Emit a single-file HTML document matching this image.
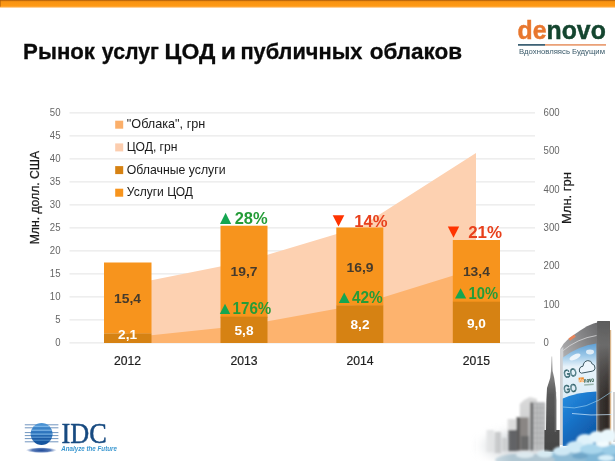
<!DOCTYPE html>
<html lang="ru">
<head>
<meta charset="utf-8">
<title>Рынок услуг ЦОД и публичных облаков</title>
<style>
html,body{margin:0;padding:0;background:#fff;}
body{width:615px;height:461px;overflow:hidden;position:relative;font-family:"Liberation Sans",sans-serif;}
svg{position:absolute;left:0;top:0;display:block;}
text{font-family:"Liberation Sans",sans-serif;}
.ax{font-size:10px;fill:#666;}
.cat{font-size:12.2px;fill:#1e1e1e;stroke:#1e1e1e;stroke-width:0.2px;}
.leg{font-size:12.2px;fill:#1a1a1a;}
.dl{font-size:13px;font-weight:bold;fill:#453a2c;text-anchor:middle;}
.dlw{font-size:13px;font-weight:bold;fill:#ffffff;text-anchor:middle;}
.pg{font-size:17px;font-weight:bold;fill:#259c38;}
.pr{font-size:17px;font-weight:bold;fill:#e8401c;}
</style>
</head>
<body>
<svg width="615" height="461" viewBox="0 0 615 461">
<defs>
<linearGradient id="topbar" x1="0" y1="0" x2="0" y2="1">
<stop offset="0" stop-color="#b2600a"/><stop offset="0.1" stop-color="#c8700c"/><stop offset="0.2" stop-color="#f89312"/><stop offset="0.74" stop-color="#ff9a14"/><stop offset="0.86" stop-color="#ffb250"/><stop offset="1" stop-color="#ffffff"/>
</linearGradient>
</defs>
<rect x="0" y="0" width="615" height="461" fill="#ffffff"/>
<rect x="0" y="0" width="615" height="8.2" fill="url(#topbar)"/>
<rect x="0" y="0" width="1" height="6.6" fill="#a85a08" opacity="0.55"/>

<!-- title -->
<text id="title" y="59" font-size="22.2px" font-weight="bold" fill="#0a0a0a" stroke="#0a0a0a" stroke-width="0.3"><tspan x="23.1" textLength="71.9" lengthAdjust="spacingAndGlyphs">Рынок</tspan> <tspan x="101.8" textLength="57.2" lengthAdjust="spacingAndGlyphs">услуг</tspan> <tspan x="164.6" textLength="50.8" lengthAdjust="spacingAndGlyphs">ЦОД</tspan> <tspan x="220.8" textLength="15.2" lengthAdjust="spacingAndGlyphs">и</tspan> <tspan x="240.4" textLength="122" lengthAdjust="spacingAndGlyphs">публичных</tspan> <tspan x="369.7" textLength="92.4" lengthAdjust="spacingAndGlyphs">облаков</tspan></text>

<!-- denovo logo -->
<g id="denovo">
<text x="517.6" y="0" transform="translate(0,39.2) scale(1,0.9)" font-size="28.5px" font-weight="bold" textLength="88.2" lengthAdjust="spacingAndGlyphs" stroke-width="0.5"><tspan fill="#e8772e" stroke="#e8772e">de</tspan><tspan fill="#14452f" stroke="#14452f">novo</tspan></text>
<rect x="518" y="44.1" width="27" height="1.6" fill="#2a5266"/>
<rect x="545" y="44.1" width="61" height="1.6" fill="#e8976a"/>
<text x="519" y="53.9" font-size="6.6px" fill="#3a5a6a" textLength="86" lengthAdjust="spacingAndGlyphs">Вдохновляясь Будущим</text>
</g>

<!-- chart -->
<g id="grid" stroke="#e3e3e3" stroke-width="1">
<line x1="69.5" x2="535" y1="112.9" y2="112.9"/>
<line x1="69.5" x2="535" y1="135.9" y2="135.9"/>
<line x1="69.5" x2="535" y1="158.9" y2="158.9"/>
<line x1="69.5" x2="535" y1="181.9" y2="181.9"/>
<line x1="69.5" x2="535" y1="204.9" y2="204.9"/>
<line x1="69.5" x2="535" y1="227.9" y2="227.9"/>
<line x1="69.5" x2="535" y1="250.9" y2="250.9"/>
<line x1="69.5" x2="535" y1="273.9" y2="273.9"/>
<line x1="69.5" x2="535" y1="296.9" y2="296.9"/>
<line x1="69.5" x2="535" y1="319.9" y2="319.9"/>
<line x1="69.5" x2="535" y1="342.9" y2="342.9"/>
</g>
<polygon id="area1" points="127.6,343 127.6,285 244,261.8 360,227 476,153 476,343" fill="#fdd1b1"/>
<polygon id="area2" points="127.6,343 127.6,337.8 244,325.6 360,304.5 476,268.6 476,343" fill="#fdb36e"/>
<g id="bars">
<rect x="104" y="262.5" width="47.5" height="71" fill="#f7941d"/>
<rect x="104" y="333.4" width="47.5" height="9.6" fill="#d68213"/>
<rect x="220.5" y="225.7" width="47" height="92" fill="#f7941d"/>
<rect x="220.5" y="316.7" width="47" height="26.3" fill="#d68213"/>
<rect x="336.3" y="227.5" width="47" height="78" fill="#f7941d"/>
<rect x="336.3" y="305.3" width="47" height="37.7" fill="#d68213"/>
<rect x="452.8" y="240" width="47.2" height="62" fill="#f7941d"/>
<rect x="452.8" y="301.7" width="47.2" height="41.3" fill="#d68213"/>
</g>
<g class="ax" text-anchor="end">
<text x="60.5" y="115.8" textLength="10.7" lengthAdjust="spacingAndGlyphs">50</text>
<text x="60.5" y="138.8" textLength="10.7" lengthAdjust="spacingAndGlyphs">45</text>
<text x="60.5" y="161.8" textLength="10.7" lengthAdjust="spacingAndGlyphs">40</text>
<text x="60.5" y="184.8" textLength="10.7" lengthAdjust="spacingAndGlyphs">35</text>
<text x="60.5" y="207.8" textLength="10.7" lengthAdjust="spacingAndGlyphs">30</text>
<text x="60.5" y="230.8" textLength="10.7" lengthAdjust="spacingAndGlyphs">25</text>
<text x="60.5" y="253.8" textLength="10.7" lengthAdjust="spacingAndGlyphs">20</text>
<text x="60.5" y="276.8" textLength="10.7" lengthAdjust="spacingAndGlyphs">15</text>
<text x="60.5" y="299.8" textLength="10.7" lengthAdjust="spacingAndGlyphs">10</text>
<text x="60.5" y="322.8" textLength="5.3" lengthAdjust="spacingAndGlyphs">5</text>
<text x="60.5" y="345.8" textLength="5.3" lengthAdjust="spacingAndGlyphs">0</text>
</g>
<g class="ax" text-anchor="start">
<text x="543.6" y="115.8" textLength="16" lengthAdjust="spacingAndGlyphs">600</text>
<text x="543.6" y="154.1" textLength="16" lengthAdjust="spacingAndGlyphs">500</text>
<text x="543.6" y="192.5" textLength="16" lengthAdjust="spacingAndGlyphs">400</text>
<text x="543.6" y="230.8" textLength="16" lengthAdjust="spacingAndGlyphs">300</text>
<text x="543.6" y="269.1" textLength="16" lengthAdjust="spacingAndGlyphs">200</text>
<text x="543.6" y="307.5" textLength="16" lengthAdjust="spacingAndGlyphs">100</text>
<text x="543.6" y="345.8" textLength="5.3" lengthAdjust="spacingAndGlyphs">0</text>
</g>
<g class="cat" text-anchor="middle">
<text x="127.6" y="364.9">2012</text>
<text x="244" y="364.9">2013</text>
<text x="360" y="364.9">2014</text>
<text x="476.4" y="364.9">2015</text>
</g>
<text class="leg" transform="translate(39,197.6) rotate(-90)" text-anchor="middle" textLength="93.4" lengthAdjust="spacingAndGlyphs" stroke="#1a1a1a" stroke-width="0.25">Млн. долл. США</text>
<text class="leg" transform="translate(571.2,198) rotate(-90)" text-anchor="middle" textLength="52" lengthAdjust="spacingAndGlyphs" stroke="#1a1a1a" stroke-width="0.25">Млн. грн</text>

<!-- legend -->
<g id="legend">
<rect x="115.2" y="120.7" width="8" height="8" fill="#fbaf6a"/>
<rect x="115.2" y="143.4" width="8" height="8" fill="#fccdae"/>
<rect x="115.2" y="166.1" width="8" height="8" fill="#d68213"/>
<rect x="115.2" y="188.7" width="8" height="8" fill="#f7941d"/>
<text class="leg" x="126.8" y="128.3" textLength="78.5" lengthAdjust="spacingAndGlyphs">"Облака", грн</text>
<text class="leg" x="126.8" y="151" textLength="50.7" lengthAdjust="spacingAndGlyphs">ЦОД, грн</text>
<text class="leg" x="126.8" y="173.7" textLength="98.8" lengthAdjust="spacingAndGlyphs">Облачные услуги</text>
<text class="leg" x="126.8" y="196.3" textLength="66.2" lengthAdjust="spacingAndGlyphs">Услуги ЦОД</text>
</g>

<!-- data labels -->
<text class="dl" x="127.6" y="303.3" textLength="27" lengthAdjust="spacingAndGlyphs">15,4</text>
<text class="dlw" x="127.6" y="339.4" textLength="19" lengthAdjust="spacingAndGlyphs">2,1</text>
<text class="dl" x="244" y="276.4" textLength="27" lengthAdjust="spacingAndGlyphs">19,7</text>
<text class="dlw" x="244" y="334.8" textLength="19" lengthAdjust="spacingAndGlyphs">5,8</text>
<text class="dl" x="360" y="271.6" textLength="27" lengthAdjust="spacingAndGlyphs">16,9</text>
<text class="dlw" x="360" y="329.4" textLength="19" lengthAdjust="spacingAndGlyphs">8,2</text>
<text class="dl" x="476.4" y="276" textLength="27" lengthAdjust="spacingAndGlyphs">13,4</text>
<text class="dlw" x="476.4" y="328.1" textLength="19" lengthAdjust="spacingAndGlyphs">9,0</text>

<!-- percent labels -->
<g id="pct">
<polygon points="220,224 231.2,224 225.6,212.8" fill="#14a651"/>
<text class="pg" x="234.7" y="224.2" textLength="33" lengthAdjust="spacingAndGlyphs">28%</text>
<polygon points="219.8,314 230.2,314 225,303.8" fill="#14a651"/>
<text class="pg" x="232.6" y="314" textLength="38.6" lengthAdjust="spacingAndGlyphs">176%</text>
<polygon points="338.8,303 349.7,303 344.2,292.5" fill="#14a651"/>
<text class="pg" x="352" y="303.3" textLength="30.8" lengthAdjust="spacingAndGlyphs">42%</text>
<polygon points="455,298.6 466.2,298.6 460.6,288.2" fill="#14a651"/>
<text class="pg" x="468.6" y="299.4" textLength="29.5" lengthAdjust="spacingAndGlyphs">10%</text>
<polygon points="332.7,215.2 344.3,215.2 338.5,226.4" fill="#ff3300"/>
<text class="pr" x="354.2" y="226.6" textLength="33.2" lengthAdjust="spacingAndGlyphs">14%</text>
<polygon points="447.8,226.5 459.2,226.5 453.5,237.8" fill="#ff3300"/>
<text class="pr" x="468.2" y="238" textLength="33.8" lengthAdjust="spacingAndGlyphs">21%</text>
</g>

<!-- IDC logo -->
<g id="idc">
<defs>
<linearGradient id="gGlobe" x1="0" y1="0" x2="0" y2="1"><stop offset="0" stop-color="#4f97d6"/><stop offset="0.45" stop-color="#2c73bc"/><stop offset="0.7" stop-color="#1a5ba6"/><stop offset="1" stop-color="#17539c"/></linearGradient>
<radialGradient id="gShadow" cx="0.5" cy="0.5" r="0.5"><stop offset="0" stop-color="#1c4796"/><stop offset="0.6" stop-color="#3a62aa" stop-opacity="0.85"/><stop offset="1" stop-color="#6f8fc8" stop-opacity="0"/></radialGradient>
<clipPath id="cGlobe"><circle cx="41.6" cy="434" r="10.9"/></clipPath>
<filter id="bI" x="-20%" y="-20%" width="140%" height="140%"><feGaussianBlur stdDeviation="0.35"/></filter>
</defs>
<ellipse cx="41.3" cy="450.2" rx="15.5" ry="2.9" fill="url(#gShadow)"/>
<g filter="url(#bI)">
<g stroke="#4a78ae" stroke-width="0.8">
<line x1="24.8" x2="58.4" y1="424.8" y2="424.8"/>
<line x1="24.8" x2="58.4" y1="427.8" y2="427.8"/>
<line x1="24.8" x2="58.4" y1="432.6" y2="432.6"/>
<line x1="24.8" x2="58.4" y1="435.6" y2="435.6"/>
<line x1="24.8" x2="58.4" y1="438.6" y2="438.6"/>
<line x1="24.8" x2="58.4" y1="441.8" y2="441.8"/>
</g>
<circle cx="41.6" cy="434" r="10.9" fill="url(#gGlobe)"/>
<g clip-path="url(#cGlobe)" stroke="#8cc2ee" stroke-width="1.1" opacity="0.9">
<line x1="28" x2="56" y1="426.3" y2="426.3"/>
<line x1="28" x2="56" y1="430.2" y2="430.2"/>
<line x1="28" x2="56" y1="434.1" y2="434.1"/>
<line x1="28" x2="56" y1="437.2" y2="437.2" opacity="0.7"/>
<line x1="28" x2="56" y1="440.2" y2="440.2" opacity="0.5"/>
</g>
</g>
<text x="61.6" y="442.8" font-size="29px" fill="#174a80" stroke="#174a80" stroke-width="0.5" textLength="45.2" lengthAdjust="spacingAndGlyphs" style="font-family:'Liberation Serif',serif">IDC</text>
<text x="61.3" y="451.1" font-size="6.5px" font-style="italic" font-weight="bold" fill="#3a97d0" textLength="55.6" lengthAdjust="spacingAndGlyphs">Analyze the Future</text>
</g>

<!-- city -->
<g id="city">
<defs>
<filter id="b05" x="-20%" y="-20%" width="140%" height="140%"><feGaussianBlur stdDeviation="0.55"/></filter>
<filter id="b08" x="-20%" y="-20%" width="140%" height="140%"><feGaussianBlur stdDeviation="0.9"/></filter>
<filter id="b1" x="-30%" y="-30%" width="160%" height="160%"><feGaussianBlur stdDeviation="1.1"/></filter>
<filter id="b2" x="-30%" y="-30%" width="160%" height="160%"><feGaussianBlur stdDeviation="2.2"/></filter>
<filter id="b4" x="-40%" y="-40%" width="180%" height="180%"><feGaussianBlur stdDeviation="5"/></filter>
<linearGradient id="gBlue" x1="0" y1="0" x2="0.6" y2="1">
<stop offset="0" stop-color="#2a90e0"/><stop offset="0.45" stop-color="#1a76cc"/><stop offset="1" stop-color="#0e58a6"/>
</linearGradient>
<linearGradient id="gSky" x1="0" y1="0" x2="0" y2="1">
<stop offset="0" stop-color="#5f9fd4"/><stop offset="0.22" stop-color="#9cc8e8"/><stop offset="0.42" stop-color="#e8f3fa"/><stop offset="1" stop-color="#dcecf6"/>
</linearGradient>
<linearGradient id="gCol" x1="0" y1="0" x2="1" y2="0">
<stop offset="0" stop-color="#6e6e6e"/><stop offset="0.25" stop-color="#3a3532"/><stop offset="0.8" stop-color="#2c2724"/><stop offset="1" stop-color="#5a4a3c"/>
</linearGradient>
<linearGradient id="gColTop" x1="0" y1="0" x2="0" y2="1">
<stop offset="0" stop-color="#5c5c5c"/><stop offset="0.3" stop-color="#727272" stop-opacity="0.9"/><stop offset="0.7" stop-color="#6a6a6a" stop-opacity="0.35"/><stop offset="1" stop-color="#6a6a6a" stop-opacity="0"/>
</linearGradient>
<linearGradient id="gRoof" gradientUnits="userSpaceOnUse" x1="560" y1="352" x2="606" y2="322"><stop offset="0" stop-color="#b0b0b2"/><stop offset="0.5" stop-color="#858587"/><stop offset="1" stop-color="#606062"/></linearGradient>
<linearGradient id="gSpire" x1="0" y1="0" x2="0" y2="1"><stop offset="0" stop-color="#c8c8c8"/><stop offset="0.18" stop-color="#858585"/><stop offset="0.4" stop-color="#585858"/><stop offset="1" stop-color="#444444"/></linearGradient>
<linearGradient id="gFadeL" x1="0" y1="0" x2="1" y2="0">
<stop offset="0" stop-color="#fff" stop-opacity="1"/><stop offset="1" stop-color="#fff" stop-opacity="0"/>
</linearGradient>
<linearGradient id="gTallW" x1="0" y1="0" x2="0" y2="1"><stop offset="0" stop-color="#dadada"/><stop offset="1" stop-color="#c4c6c8"/></linearGradient>
</defs>
<!-- haze -->
<ellipse cx="515" cy="446" rx="36" ry="14" fill="#d4d8dc" filter="url(#b4)" opacity="0.9"/>
<g filter="url(#b08)">
<!-- faint far buildings -->
<rect x="486.4" y="430" width="7.3" height="22" fill="#cfd1d3"/>
<rect x="494.6" y="432" width="6.2" height="21" fill="#b4b6b8"/>
<rect x="502" y="438" width="5" height="13" fill="#c4c6c8"/>
<rect x="507.6" y="419" width="8.2" height="14" fill="#dcdcdc"/>
<rect x="508.2" y="430" width="9" height="21" fill="#626466"/>
<!-- tall white building -->
<polygon points="519.8,450 519.8,404 524,400 530,397 537,399 538,450" fill="url(#gTallW)"/>
<rect x="516.6" y="417.4" width="12" height="33" fill="#8a8684"/>
<rect x="516.6" y="417.4" width="3.4" height="33" fill="#5c5c5c"/>
<rect x="521" y="436" width="8" height="14" fill="#6a6a6a"/>
<!-- grid building -->
<rect x="530.4" y="402.4" width="14.6" height="48" fill="#a9abad"/>
<rect x="530.4" y="402.4" width="2.4" height="48" fill="#606060"/>
<g stroke="#d4d4d4" stroke-width="1.3">
<line x1="535.4" x2="535.4" y1="404" y2="450"/><line x1="538.9" x2="538.9" y1="404" y2="450"/><line x1="542.4" x2="542.4" y1="404" y2="450"/>
</g>
<g stroke="#777" stroke-width="0.5" opacity="0.6">
<line x1="533" x2="545" y1="408" y2="408"/><line x1="533" x2="545" y1="413" y2="413"/><line x1="533" x2="545" y1="418" y2="418"/><line x1="533" x2="545" y1="423" y2="423"/><line x1="533" x2="545" y1="428" y2="428"/><line x1="533" x2="545" y1="433" y2="433"/><line x1="533" x2="545" y1="438" y2="438"/><line x1="533" x2="545" y1="443" y2="443"/>
</g>
</g>
<g filter="url(#b05)">
<!-- empire state -->
<polygon points="551.4,356.5 552.2,356.5 552.6,371 554.2,378 555.6,388 556.3,400 556.3,430 559.6,430 559.6,452 544.4,452 544.4,430 546,430 546.4,400 547,388 550.2,378 551,371" fill="url(#gSpire)"/>
<rect x="554.6" y="392" width="1.6" height="40" fill="#777" opacity="0.7"/>
<!-- blue building -->
<path d="M560.4,349 L563.6,343.8 L567.5,339.7 L574,334.7 L580.5,330.2 L587,326.3 L593.5,323.4 L601.3,321.4 L609.8,321 L609.8,445 L560.4,445 Z" fill="url(#gRoof)"/>
<path d="M562,351.5 Q577,338.5 596.5,335.5" stroke="#d8d8da" stroke-width="1" fill="none" opacity="0.8"/>
<path d="M560.4,349.5 L563.3,347 L563.3,445 L560.4,445 Z" fill="#cfd1d4"/>
<!-- screen sky -->
<path d="M562.8,357.5 Q578,346 596.3,343.5 L596.3,392 Q578,392 562.8,399 Z" fill="url(#gSky)"/>
<ellipse cx="575" cy="357" rx="6" ry="2.6" fill="#f4f9fd" opacity="0.9" transform="rotate(-25 575 357)"/>
<ellipse cx="590" cy="352" rx="4" ry="2.4" fill="#f4f9fd" opacity="0.8"/>
<!-- screen blue -->
<path d="M562.8,398.5 Q578,392 596.3,391.5 L596.3,446 L562.8,446 Z" fill="url(#gBlue)"/>
<!-- right column -->
<rect x="597.2" y="322" width="12.6" height="124" fill="url(#gCol)"/>
<rect x="597.2" y="321" width="12.6" height="80" fill="url(#gColTop)"/>
<rect x="610" y="330" width="1.2" height="115" fill="#c9955a" opacity="0.7"/>
<rect x="613" y="392" width="2.4" height="50" fill="#d0d0d0"/>
<!-- roof sign -->
<rect x="568.6" y="336.2" width="7" height="2.8" fill="#e8845a" transform="rotate(-34 572.1 337.6)"/>
<!-- light streaks -->
<path d="M563,407 Q585,412 612,391.5" stroke="#9fd4f4" stroke-width="0.8" fill="none" opacity="0.8"/>
<path d="M572,413.5 Q590,416 612,414.5" stroke="#cfeaff" stroke-width="0.8" fill="none" opacity="0.9"/>
</g>
<!-- screen text -->
<g font-weight="normal" fill="#c4e0ea" stroke="#2f5f68" stroke-width="0.7" font-size="11px" style="font-family:'Liberation Sans',sans-serif">
<text x="564.4" y="377.8" transform="rotate(-11 565 377.5)" textLength="13" lengthAdjust="spacingAndGlyphs">GO</text>
<text x="564.2" y="393.2" transform="rotate(-9 565 393)" textLength="13" lengthAdjust="spacingAndGlyphs">GO</text>
</g>
<rect x="579" y="377.6" width="5.2" height="4.6" fill="#f08a2a" transform="rotate(-5 580 383)"/>
<text x="579.2" y="383" font-size="6.4px" font-weight="bold" transform="rotate(-5 580 383)" textLength="15" lengthAdjust="spacingAndGlyphs" style="font-family:'Liberation Sans',sans-serif"><tspan fill="#ffe9d0">de</tspan><tspan fill="#14452f">novo</tspan></text>
<rect x="584" y="384.6" width="9.5" height="1.6" fill="#8aa89a" opacity="0.8" transform="rotate(-5 580 383)"/>
<path d="M581.4,373.2 Q578.6,372.8 579.4,369 Q580.4,366 583,366.2 Q583.6,361.2 587.8,360.6 Q591.4,360.4 592.2,364 Q595.2,364.4 595,368.2 Q594.6,371 592.2,371.2 Z" fill="#eef6fc" stroke="#3a5560" stroke-width="1"/>
<!-- clouds -->
<g filter="url(#b1)">
<ellipse cx="600" cy="456" rx="28" ry="13" fill="#7fb6d6"/>
<ellipse cx="560" cy="459" rx="26" ry="8" fill="#8fbcd6"/>
<ellipse cx="525" cy="460" rx="30" ry="6.5" fill="#b0c6d2"/>
<ellipse cx="585" cy="441" rx="9" ry="7" fill="#dff2fa"/>
<ellipse cx="597" cy="437" rx="8" ry="6" fill="#e6f6fc"/>
<ellipse cx="608" cy="436" rx="8" ry="7" fill="#eaf7fc"/>
<ellipse cx="575" cy="447" rx="9" ry="6" fill="#cfeaf6"/>
<ellipse cx="592" cy="449" rx="12" ry="5" fill="#a9d6ec"/>
<ellipse cx="562" cy="451" rx="9" ry="4.5" fill="#cfe8f4"/>
<ellipse cx="545" cy="454" rx="8" ry="3.5" fill="#d6eaf2"/>
<ellipse cx="525" cy="455" rx="9" ry="3" fill="#dde9ef"/>
<ellipse cx="610" cy="450" rx="8" ry="5" fill="#9acce6"/>
<ellipse cx="603" cy="444" rx="7" ry="3" fill="#f2fbfe"/>
<ellipse cx="580" cy="456" rx="8" ry="3" fill="#6fa6c8"/>
<ellipse cx="606" cy="458" rx="8" ry="3" fill="#d8f0fa"/>
</g>
<rect x="476" y="390" width="36" height="71" fill="url(#gFadeL)" opacity="0.7"/>
</g>
</svg>
</body>
</html>
